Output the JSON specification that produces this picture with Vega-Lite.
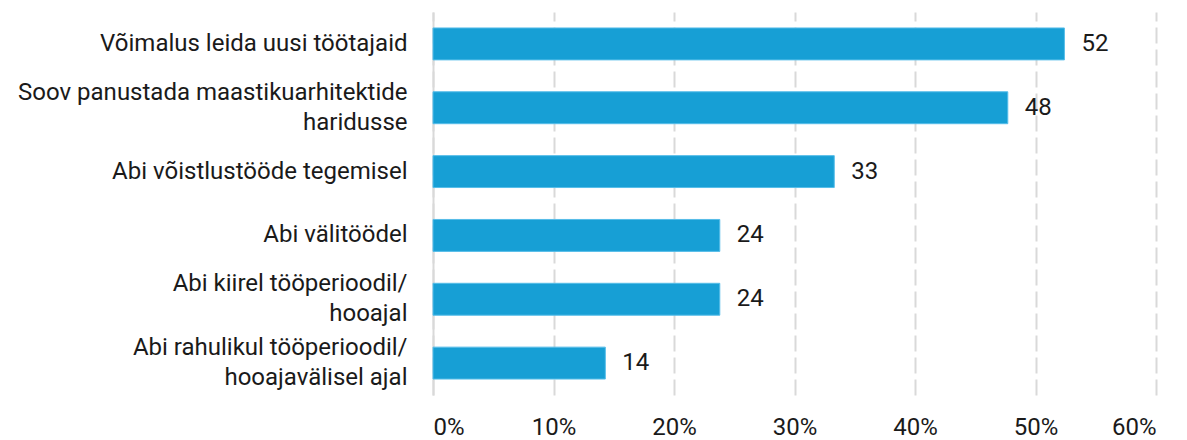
{
  "$schema": "https://vega.github.io/schema/vega-lite/v6.json",
  "width": 723,
  "height": 383,
  "autosize": {"type": "none"},
  "padding": {"left": 433, "top": 12, "right": 31, "bottom": 45},
  "background": "white",
  "config": {
    "view": {"stroke": null},
    "font": "Roboto"
  },
  "data": {
    "values": [
      {"category": "Võimalus leida uusi töötajaid", "value": 52.4, "label": 52},
      {"category": "Soov panustada maastikuarhitektide|haridusse", "value": 47.7, "label": 48},
      {"category": "Abi võistlustööde tegemisel", "value": 33.3, "label": 33},
      {"category": "Abi välitöödel", "value": 23.8, "label": 24},
      {"category": "Abi kiirel tööperioodil/|hooajal", "value": 23.8, "label": 24},
      {"category": "Abi rahulikul tööperioodil/|hooajavälisel ajal", "value": 14.3, "label": 14}
    ]
  },
  "encoding": {
    "y": {
      "field": "category",
      "type": "nominal",
      "sort": null,
      "scale": {"paddingInner": 0.5, "paddingOuter": 0.25},
      "axis": {
        "title": null,
        "labelExpr": "split(datum.label, '|')",
        "labelFont": "Roboto",
        "labelFontSize": 24,
        "labelColor": "#1a1a1a",
        "labelLineHeight": 30,
        "labelPadding": 26,
        "labelLimit": 440,
        "labelOffset": {"condition": {"test": "indexof(datum.value, '|') >= 0", "value": -15}, "value": 0},
        "ticks": false,
        "domain": true,
        "domainColor": "#d9d9d9",
        "domainWidth": 2,
        "grid": false
      }
    }
  },
  "layer": [
    {
      "mark": {"type": "bar", "color": "#179fd5", "stroke": "#56bde9", "strokeWidth": 1},
      "encoding": {
        "x": {
          "field": "value",
          "type": "quantitative",
          "scale": {"domain": [0, 60], "nice": false},
          "axis": {
            "title": null,
            "values": [0, 10, 20, 30, 40, 50, 60],
            "labelExpr": "datum.value + '%'",
            "labelFont": "Roboto",
            "labelFontSize": 24,
            "labelColor": "#1a1a1a",
            "labelBaseline": "bottom",
            "labelPadding": 44,
            "ticks": false,
            "domain": false,
            "grid": true,
            "gridColor": "#d9d9d9",
            "gridWidth": 2,
            "gridDash": [16, 6]
          }
        }
      }
    },
    {
      "mark": {"type": "text", "align": "left", "baseline": "middle", "dx": 17, "fontSize": 24, "font": "Roboto", "color": "#1a1a1a"},
      "encoding": {
        "x": {"field": "value", "type": "quantitative"},
        "text": {"field": "label", "type": "quantitative"}
      }
    }
  ]
}
